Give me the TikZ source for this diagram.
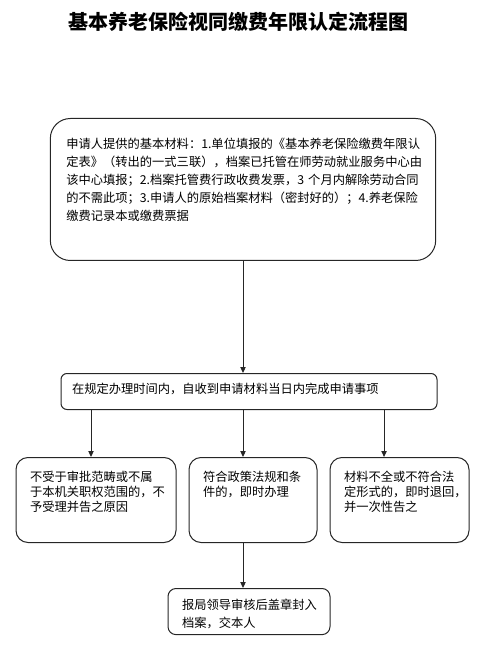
\documentclass[tikz,border=0pt]{standalone}
\usepackage{fontspec}
\usepackage{xcolor}
\usepackage{tikz}
\usetikzlibrary{arrows.meta, positioning}
\newfontfamily\cjk{Noto Sans CJK SC}

\begin{document}
\begin{tikzpicture}[
    x=0.75pt, y=-0.75pt,
    node distance=9pt and 9pt,
    font=\cjk\fontsize{9.2}{13.5}\selectfont,
    box/.style={draw=black!85, line width=0.75pt, align=left, text height=8pt},
    bigbox/.style={box, rounded corners=15pt, inner xsep=12pt, inner ysep=14.25pt, text width=265pt, text depth=70pt},
    barbox/.style={box, rounded corners=4.5pt, inner xsep=8.25pt, inner ysep=6.75pt, text width=265.5pt, text depth=5.5pt},
    stepbox/.style={box, rounded corners=9pt, inner xsep=10.5pt, inner ysep=9.75pt, text width=#1, text depth=36.25pt, font=\cjk\fontsize{9.2}{11.25}\selectfont},
    endbox/.style={box, rounded corners=6pt, inner xsep=10.5pt, inner ysep=7.5pt, text width=100.5pt, text depth=11.6pt},
    arrow/.style={-{Triangle[length=4.5pt, width=4pt]}, line width=0.75pt, draw=black!85},
]
\useasboundingbox (0,0) rectangle (490,655);

% Title
\node[font=\cjk\bfseries\fontsize{15}{17}\selectfont] (title) at (238,22) {基本养老保险视同缴费年限认定流程图};

% Materials
\node[bigbox, anchor=north] (material) at (243,118) {申请人提供的基本材料：1.单位填报的《基本养老保险缴费年限认\\
定表》（转出的一式三联），档案已托管在师劳动就业服务中心由\\
该中心填报；2.档案托管费行政收费发票，3 个月内解除劳动合同\\
的不需此项；3.申请人的原始档案材料（密封好的）；4.养老保险\\
缴费记录本或缴费票据};

% Handling
\node[barbox, below=84pt of material, xshift=4.5pt] (handle) {在规定办理时间内，自收到申请材料当日内完成申请事项};

% Three outcomes side by side
\node[stepbox=75pt, below=35.25pt of handle, xshift=3pt] (accept) {符合政策法规和条\\件的，即时办理};
\node[stepbox=99pt, left=9pt of accept] (reject) {不受于审批范畴或不属\\于本机关职权范围的，不\\予受理并告之原因};
\node[stepbox=83.25pt, right=9pt of accept] (back) {材料不全或不符合法\\定形式的，即时退回，\\并一次性告之};

% Final
\node[endbox, below=33.75pt of accept, xshift=-3pt] (archive) {报局领导审核后盖章封入\\档案，交本人};

\draw[arrow] (material.south) -- (material.south |- handle.north);
\draw[arrow] ([xshift=-3.75pt]reject.north |- handle.south) -- ([xshift=-3.75pt]reject.north);
\draw[arrow] ([xshift=-4.5pt]handle.south) -- ([xshift=-4.5pt]handle.south |- accept.north);
\draw[arrow] ([xshift=-11.6pt]back.north |- handle.south) -- ([xshift=-11.6pt]back.north);
\draw[arrow] ([xshift=-7.5pt]accept.south) -- ([xshift=-7.5pt]accept.south |- archive.north);

\end{tikzpicture}
\end{document}
